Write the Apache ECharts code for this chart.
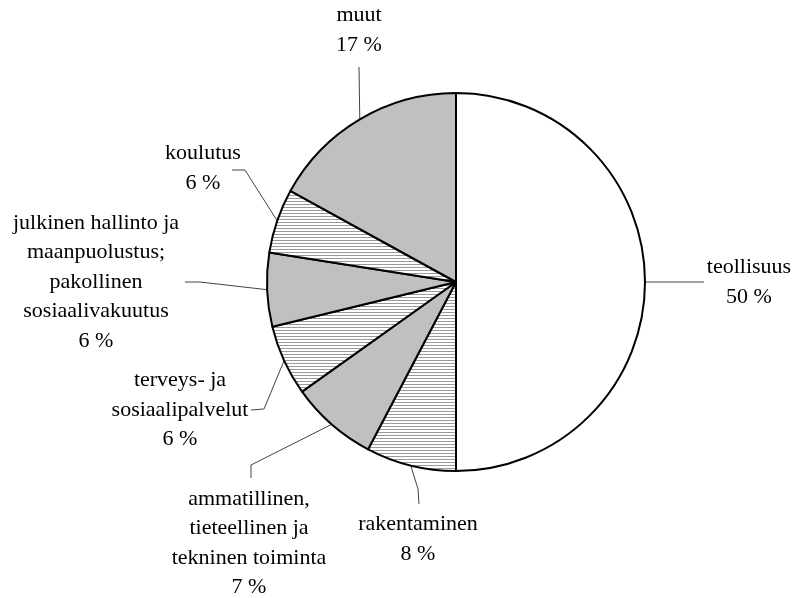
<!DOCTYPE html>
<html>
<head>
<meta charset="utf-8">
<script src="https://cdn.jsdelivr.net/npm/echarts@6/dist/echarts.min.js"></script>
<style>
html,body{margin:0;padding:0;background:#fff;}
#chart{width:795px;height:598px;}
</style>
</head>
<body>
<div id="chart"></div>
<script>
// Data
const categories = [
  'teollisuus',
  'rakentaminen',
  'ammatillinen,\ntieteellinen ja\ntekninen toiminta',
  'terveys- ja\nsosiaalipalvelut',
  'julkinen hallinto ja\nmaanpuolustus;\npakollinen\nsosiaalivakuutus',
  'koulutus',
  'muut'
];
const shares = [50.0, 7.7, 7.45, 6.05, 6.3, 5.5, 17.0];
const fillKinds = ['white', 'hatch', 'gray', 'hatch', 'gray', 'hatch', 'gray'];

// Label placement (layout only)
const labelPos = [
  {x: 749, y: 282, p1: [704, 282], p2: [704, 282]},
  {x: 418, y: 539, p1: [418, 489], p2: [419, 504]},
  {x: 249, y: 543, p1: [251, 465], p2: [251, 478]},
  {x: 180, y: 410, p1: [264, 409], p2: [251, 410]},
  {x: 96,  y: 282, p1: [200, 282], p2: [185, 282]},
  {x: 203, y: 168, p1: [245, 170], p2: [232, 170]},
  {x: 359, y: 30,  p1: [359, 67],  p2: [359, 67]}
];

function makeHatch() {
  const c = document.createElement('canvas');
  c.width = 8; c.height = 3;
  const g = c.getContext('2d');
  g.fillStyle = '#ffffff';
  g.fillRect(0, 0, 8, 3);
  g.fillStyle = '#9a9a9a';
  g.fillRect(0, 0, 8, 1);
  return c;
}
const hatch = makeHatch();
function fillFor(kind) {
  if (kind === 'white') return '#ffffff';
  if (kind === 'gray') return '#c0c0c0';
  return {image: hatch, repeat: 'repeat'};
}

const chart = echarts.init(document.getElementById('chart'), null, {renderer: 'canvas'});
chart.setOption({
  animation: false,
  backgroundColor: '#ffffff',
  series: [{
    type: 'pie',
    center: [456, 282],
    radius: 189,
    startAngle: 90,
    clockwise: true,
    avoidLabelOverlap: false,
    data: categories.map((c, i) => ({
      name: c,
      value: shares[i],
      itemStyle: {color: fillFor(fillKinds[i])}
    })),
    itemStyle: {borderColor: '#000', borderWidth: 2},
    label: {
      show: true,
      position: 'outside',
      formatter: p => p.name + '\n' + Math.round(p.value) + ' %',
      fontFamily: 'Liberation Serif',
      fontSize: 22,
      lineHeight: 29.5,
      color: '#000',
      align: 'center'
    },
    labelLine: {
      show: true,
      length: 20,
      length2: 10,
      lineStyle: {color: '#444', width: 1}
    },
    labelLayout: function (params) {
      const L = labelPos[params.dataIndex];
      const p0 = params.labelLinePoints ? params.labelLinePoints[0] : L.p1;
      return {
        x: L.x,
        y: L.y,
        align: 'center',
        verticalAlign: 'middle',
        labelLinePoints: [p0, L.p1, L.p2]
      };
    },
    emphasis: {disabled: true}
  }]
});
</script>
</body>
</html>
